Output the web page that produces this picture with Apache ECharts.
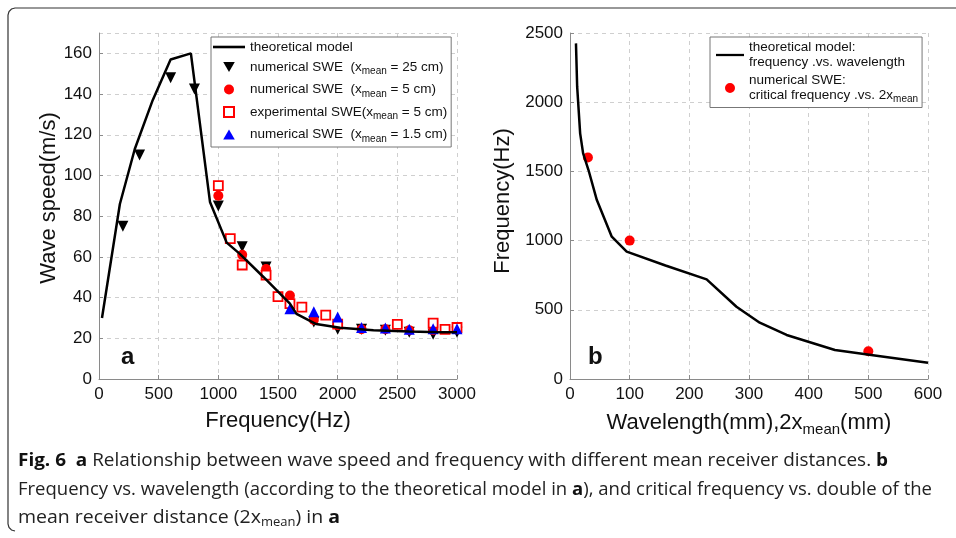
<!DOCTYPE html>
<html>
<head>
<meta charset="utf-8">
<script src="https://cdn.jsdelivr.net/npm/echarts@6.0.0/dist/echarts.min.js"></script>
<style>
  html, body { margin: 0; padding: 0; background: #fff; }
  #fig6 { width: 956px; height: 538px; }
</style>
</head>
<body>
<div id="fig6"></div>
<script>
// panel a: wave speed vs frequency
var freqModel  = [25, 175, 300, 450, 600, 770, 930, 1070, 1180, 1380, 1490, 1600, 1655, 1820, 2020, 2300, 2600, 2860, 3000];
var speedModel = [30, 86, 113, 137, 157, 160, 87, 67, 61.5, 50, 43.5, 37, 32, 27, 25.2, 24, 23.3, 23, 23];

var freq25  = [200, 340, 600, 800, 1000, 1200, 1400, 1800, 2000, 2200, 2400, 2600, 2800, 3000];
var speed25 = [75, 110, 148, 142.5, 85, 65, 55, 28, 24.5, 24.5, 24, 23, 22, 23];

var freq5  = [1000, 1200, 1400, 1600, 1800, 2000, 2200, 2400, 2600, 2800, 3000];
var speed5 = [90, 61, 54, 41, 29, 26.5, 24.5, 24.5, 24, 24, 24.5];

var freqExp  = [1000, 1100, 1200, 1400, 1500, 1600, 1700, 1900, 2000, 2500, 2800, 2900, 3000];
var speedExp = [95, 69, 56, 51, 40.5, 37, 35.3, 31.4, 27, 26.8, 27.5, 24.4, 25.3];

var freq15  = [1600, 1800, 2000, 2200, 2400, 2600, 2800, 3000];
var speed15 = [34.5, 33, 30.5, 25.3, 25, 24.4, 24.7, 24.7];

// panel b: frequency vs wavelength
var lamModel  = [10, 12, 17, 22, 31, 45, 70, 95, 160, 229, 279, 318, 363, 444, 520, 600];
var freqLam   = [2425, 2112, 1775, 1630, 1510, 1293, 1028, 920, 820, 720, 522, 407, 318, 210, 165, 118];
var lamCrit   = [30, 100, 500];
var freqCrit  = [1600, 1000, 200];

var legendA = {
    'theoretical model': 'theoretical model',
    'num25': 'numerical SWE  (x{sub|mean} = 25 cm)',
    'num5': 'numerical SWE  (x{sub|mean} = 5 cm)',
    'exp5': 'experimental SWE(x{sub|mean} = 5 cm)',
    'num15': 'numerical SWE  (x{sub|mean} = 1.5 cm)'
};
var legendB = {
    'modelB': 'theoretical model:\nfrequency .vs. wavelength',
    'critB': 'numerical SWE:\ncritical frequency .vs. 2x{sub|mean}'
};

var captionLines = [
    '{b|Fig. 6}  {b|a} Relationship between wave speed and frequency with different mean receiver distances. {b|b}',
    'Frequency vs. wavelength (according to the theoretical model in {b|a}), and critical frequency vs. double of the',
    'mean receiver distance (2x{sub|mean}) in {b|a}'
];
var captionWidths = [870, 914, 322];

function pairs(xs, ys) {
    return xs.map(function (x, i) { return [x, ys[i]]; });
}

var font = 'Liberation Sans';
var capFont = 'Open Sans';

// legend icons as paths so they keep their shape
var icons = {
    line: 'path://M0,0L32,0L32,2.6L0,2.6Z',
    down: 'path://M0,0L11,0L5.5,9.5Z',
    up: 'path://M5.5,0L11,9.5L0,9.5Z',
    dot: 'path://M5,0A5,5,0,1,1,4.99,0Z',
    square: 'path://M0,0L9,0L9,9L0,9Z'
};

// squeeze each caption line into the width of the original condensed face
var ctx = document.createElement('canvas').getContext('2d');
function measure(line) {
    var w = 0;
    line.split(/(\{[a-z]+\|[^}]*\})/).forEach(function (part) {
        var m = part.match(/^\{([a-z]+)\|([^}]*)\}$/);
        if (m) {
            ctx.font = (m[1] === 'b' ? 'bold 18px "' : '12px "') + capFont + '"';
            w += ctx.measureText(m[2]).width;
        } else {
            ctx.font = '18px "' + capFont + '"';
            w += ctx.measureText(part).width;
        }
    });
    return w;
}

var chart = echarts.init(document.getElementById('fig6'));

var axisCommon = {
    axisLine: {lineStyle: {color: '#8a8a8a', width: 1}},
    axisTick: {inside: true, length: 4, lineStyle: {color: '#8a8a8a'}},
    axisLabel: {fontFamily: font, fontSize: 17, color: '#111', margin: 7, showMaxLabel: true},
    splitLine: {show: true, lineStyle: {color: '#cfcfcf', type: [4, 4], width: 1}},
    nameLocation: 'middle',
    nameTextStyle: {fontFamily: font, fontSize: 22, color: '#111'}
};

function axis(extra) {
    var a = Object.assign({}, JSON.parse(JSON.stringify(axisCommon)), extra);
    a.axisLabel.formatter = function (v) { return String(v); };
    return a;
}

var captionGraphics = captionLines.map(function (line, i) {
    return {
        type: 'text',
        x: 18,
        y: [461, 490, 518][i],
        scaleX: captionWidths[i] / measure(line),
        style: {
            text: line,
            fontFamily: capFont,
            fontSize: 18,
            fill: '#222',
            verticalAlign: 'middle',
            rich: {
                b: {fontFamily: capFont, fontSize: 18, fontWeight: 'bold', fill: '#111'},
                sub: {fontFamily: capFont, fontSize: 12, padding: [10, 0, 0, 0]}
            }
        }
    };
});

var yA = axis({gridIndex: 0, type: 'value', min: 0, max: 170, interval: 20,
    name: 'Wave speed(m/s)', nameGap: 38,
    nameTextStyle: {fontFamily: font, fontSize: 22, color: '#111', padding: [0, 0, 0, 16]}});
yA.axisLabel.showMaxLabel = false;

var option = {
    animation: false,
    backgroundColor: '#fff',
    grid: [
        {left: 99, right: 499, top: 33, bottom: 159},
        {left: 570, right: 28, top: 33, bottom: 159}
    ],
    xAxis: [
        axis({gridIndex: 0, type: 'value', min: 0, max: 3000, interval: 500,
            name: 'Frequency(Hz)', nameGap: 31}),
        axis({gridIndex: 1, type: 'value', min: 0, max: 600, interval: 100,
            name: 'Wavelength(mm),2x{sub|mean}(mm)', nameGap: 29,
            nameTextStyle: {fontFamily: font, fontSize: 22, color: '#111',
                rich: {sub: {fontSize: 15, fontFamily: font, color: '#111', padding: [14, 0, 0, 0]}}}})
    ],
    yAxis: [
        yA,
        axis({gridIndex: 1, type: 'value', min: 0, max: 2500, interval: 500,
            name: 'Frequency(Hz)', nameGap: 56,
            nameTextStyle: {fontFamily: font, fontSize: 22, color: '#111', padding: [0, 0, 0, 10]}})
    ],
    legend: [
        {
            data: [
                {name: 'theoretical model', icon: icons.line},
                {name: 'num25', icon: icons.down},
                {name: 'num5', icon: icons.dot},
                {name: 'exp5', icon: icons.square},
                {name: 'num15', icon: icons.up}
            ],
            orient: 'vertical',
            left: 211, top: 37,
            itemWidth: 32, itemHeight: 10, itemGap: 6,
            symbolKeepAspect: true,
            padding: [3, 4, 3, 2],
            backgroundColor: '#fff', borderColor: '#777', borderWidth: 1,
            formatter: function (n) { return legendA[n]; },
            textStyle: {fontFamily: font, fontSize: 13.5, color: '#111',
                rich: {sub: {fontSize: 10, fontFamily: font, color: '#111', padding: [9, 0, 0, 0]}}}
        },
        {
            data: [
                {name: 'modelB', icon: icons.line},
                {name: 'critB', icon: icons.dot}
            ],
            orient: 'vertical',
            left: 710, top: 37,
            itemWidth: 28, itemHeight: 10, itemGap: 3,
            symbolKeepAspect: true,
            padding: [3, 4, 3, 6],
            backgroundColor: '#fff', borderColor: '#777', borderWidth: 1,
            formatter: function (n) { return legendB[n]; },
            textStyle: {fontFamily: font, fontSize: 13.5, color: '#111', lineHeight: 15,
                rich: {sub: {fontSize: 10, fontFamily: font, color: '#111', padding: [8, 0, 0, 0]}}}
        }
    ],
    graphic: [
        {type: 'polyline', shape: {points: [[956, 8], [15, 8], [11.5, 9], [9, 11.5], [8, 15], [8, 524], [9, 527.5], [11.5, 530], [15, 531]]},
            style: {fill: null, stroke: '#333', lineWidth: 1.2}},
        {type: 'text', x: 121, y: 357, style: {text: 'a', fontFamily: font, fontSize: 24, fontWeight: 'bold', fill: '#111', verticalAlign: 'middle'}},
        {type: 'text', x: 588, y: 357, style: {text: 'b', fontFamily: font, fontSize: 24, fontWeight: 'bold', fill: '#111', verticalAlign: 'middle'}}
    ].concat(captionGraphics),
    series: [
        {
            name: 'theoretical model', type: 'line', xAxisIndex: 0, yAxisIndex: 0,
            data: pairs(freqModel, speedModel), symbol: 'none',
            lineStyle: {color: '#000', width: 2.5}, itemStyle: {color: '#000'}, z: 3
        },
        {
            name: 'num25', type: 'scatter', xAxisIndex: 0, yAxisIndex: 0,
            data: pairs(freq25, speed25), symbol: 'triangle', symbolRotate: 180, symbolSize: 11,
            itemStyle: {color: '#000', opacity: 1}
        },
        {
            name: 'num5', type: 'scatter', xAxisIndex: 0, yAxisIndex: 0,
            data: pairs(freq5, speed5), symbol: 'circle', symbolSize: 10,
            itemStyle: {color: '#f00', opacity: 1}
        },
        {
            name: 'exp5', type: 'scatter', xAxisIndex: 0, yAxisIndex: 0,
            data: pairs(freqExp, speedExp), symbol: 'rect', symbolSize: 9,
            itemStyle: {color: '#fff', borderColor: '#f00', borderWidth: 1.8, opacity: 1}
        },
        {
            name: 'num15', type: 'scatter', xAxisIndex: 0, yAxisIndex: 0,
            data: pairs(freq15, speed15), symbol: 'triangle', symbolSize: 11,
            itemStyle: {color: '#00f', opacity: 1}
        },
        {
            name: 'modelB', type: 'line', xAxisIndex: 1, yAxisIndex: 1,
            data: pairs(lamModel, freqLam), symbol: 'none',
            lineStyle: {color: '#000', width: 2.5}, itemStyle: {color: '#000'}
        },
        {
            name: 'critB', type: 'scatter', xAxisIndex: 1, yAxisIndex: 1,
            data: pairs(lamCrit, freqCrit), symbol: 'circle', symbolSize: 10,
            itemStyle: {color: '#f00', opacity: 1}
        }
    ]
};

chart.setOption(option);
</script>
</body>
</html>
